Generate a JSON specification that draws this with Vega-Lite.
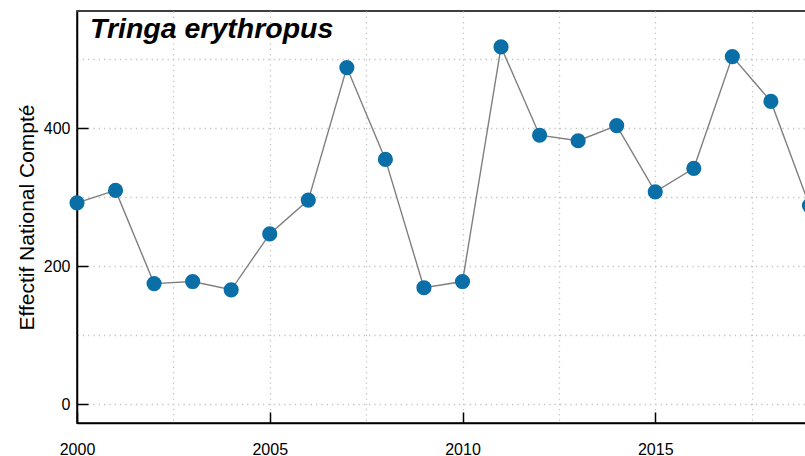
{
  "$schema": "https://vega.github.io/schema/vega-lite/v6.json",
  "autosize": {"type": "none"},
  "padding": {"left": 77, "top": 11, "right": 0, "bottom": 33},
  "width": 771,
  "height": 412,
  "background": "white",
  "config": {
    "view": {"stroke": "black", "strokeWidth": 1.5},
    "font": "Liberation Sans"
  },
  "datasets": {
    "comptages": [
      {"annee": 2000, "effectif": 292},
      {"annee": 2001, "effectif": 310},
      {"annee": 2002, "effectif": 175},
      {"annee": 2003, "effectif": 178},
      {"annee": 2004, "effectif": 166},
      {"annee": 2005, "effectif": 247},
      {"annee": 2006, "effectif": 296},
      {"annee": 2007, "effectif": 488},
      {"annee": 2008, "effectif": 355},
      {"annee": 2009, "effectif": 169},
      {"annee": 2010, "effectif": 178},
      {"annee": 2011, "effectif": 518},
      {"annee": 2012, "effectif": 390},
      {"annee": 2013, "effectif": 382},
      {"annee": 2014, "effectif": 404},
      {"annee": 2015, "effectif": 308},
      {"annee": 2016, "effectif": 342},
      {"annee": 2017, "effectif": 504},
      {"annee": 2018, "effectif": 439},
      {"annee": 2019, "effectif": 288}
    ],
    "titre": [{"espece": "Tringa erythropus", "annee": 2000, "effectif": 570}]
  },
  "layer": [
    {
      "data": {"name": "comptages"},
      "mark": {"type": "line", "color": "#7f7f7f", "strokeWidth": 1.4},
      "encoding": {
        "x": {
          "field": "annee",
          "type": "quantitative",
          "scale": {"domain": [2000, 2020], "nice": false, "zero": false},
          "axis": {
            "title": null,
            "values": [2000, 2002.5, 2005, 2007.5, 2010, 2012.5, 2015, 2017.5],
            "format": "d",
            "labelExpr": "datum.value % 5 === 0 ? datum.label : ''",
            "labelFontSize": 16,
            "labelFont": "Liberation Sans",
            "labelColor": "black",
            "labelPadding": 29,
            "labelFlush": false,
            "labelOverlap": false,
            "domainColor": "black",
            "domainWidth": 1.5,
            "tickColor": "black",
            "tickWidth": 1.5,
            "tickSize": -11,
            "tickOpacity": {"expr": "datum.value % 5 === 0 ? 1 : 0"},
            "grid": true,
            "gridColor": "#c4c4c4",
            "gridDash": [1.3, 4],
            "gridWidth": 1.3
          }
        },
        "y": {
          "field": "effectif",
          "type": "quantitative",
          "scale": {"domain": [-27, 570], "nice": false, "zero": false},
          "axis": {
            "title": "Effectif National Compté",
            "titleFont": "Liberation Sans",
            "titleFontSize": 21,
            "titleFontWeight": "normal",
            "titleColor": "black",
            "titlePadding": 6,
            "values": [0, 100, 200, 300, 400, 500],
            "labelExpr": "datum.value % 200 === 0 ? datum.label : ''",
            "labelFontSize": 16,
            "labelFont": "Liberation Sans",
            "labelColor": "black",
            "labelPadding": 18,
            "labelOverlap": false,
            "domainColor": "black",
            "domainWidth": 1.5,
            "tickColor": "black",
            "tickWidth": 1.5,
            "tickSize": -11,
            "tickOpacity": {"expr": "datum.value % 200 === 0 ? 1 : 0"},
            "grid": true,
            "gridColor": "#c4c4c4",
            "gridDash": [1.3, 4],
            "gridWidth": 1.3
          }
        }
      }
    },
    {
      "data": {"name": "comptages"},
      "mark": {"type": "circle", "color": "#0b6fa7", "opacity": 1, "size": 230},
      "encoding": {
        "x": {"field": "annee", "type": "quantitative"},
        "y": {"field": "effectif", "type": "quantitative"}
      }
    },
    {
      "data": {"name": "titre"},
      "mark": {
        "type": "text",
        "font": "Liberation Sans",
        "fontSize": 28.5,
        "fontWeight": "bold",
        "fontStyle": "italic",
        "align": "left",
        "baseline": "alphabetic",
        "dx": 13,
        "dy": 27,
        "color": "black"
      },
      "encoding": {
        "x": {"field": "annee", "type": "quantitative"},
        "y": {"field": "effectif", "type": "quantitative"},
        "text": {"field": "espece", "type": "nominal"}
      }
    }
  ]
}
